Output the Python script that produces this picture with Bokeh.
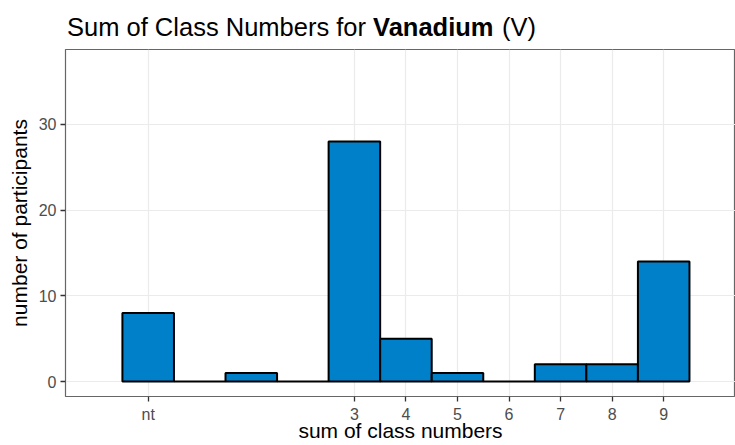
from bokeh.plotting import figure
from bokeh.layouts import column
from bokeh.models import ColumnDataSource, FixedTicker, Range1d
from bokeh.core.properties import value
from bokeh.embed import file_html
from bokeh.resources import INLINE

# ---- data ----
positions = [-1, 0, 1, 2, 3, 4, 5, 6, 7, 8, 9]
counts = [8, 0, 1, 0, 28, 5, 1, 0, 2, 2, 14]
x_tick_values = [-1, 3, 4, 5, 6, 7, 8, 9]
x_tick_labels = ["nt", "3", "4", "5", "6", "7", "8", "9"]
y_tick_values = [0, 10, 20, 30]

title_plain = "Sum of Class Numbers for"
title_bold = "Vanadium"
title_tail = "(V)"
x_title = "sum of class numbers"
y_title = "number of participants"

FONT = "Liberation Sans"
W = 735
H = 445
LEFT = 65
TITLE_H = 49
FS = 25.5
FRAME_W = W - LEFT

# ---- title strip (mixed weight title) ----
pt = figure(width=W, height=TITLE_H, output_backend="svg", toolbar_location=None,
            x_range=Range1d(0, FRAME_W), y_range=Range1d(0, TITLE_H),
            x_axis_type=None, y_axis_type=None, min_border=0,
            min_border_left=LEFT, min_border_right=0)
pt.grid.visible = False
pt.outline_line_color = None
pt.background_fill_color = "white"
pt.border_fill_color = "white"

w_plain_space = 12.003 * FS   # "Sum of Class Numbers for " (Arial metrics)
w_bold_space = (4.779 + 0.278) * FS  # "Vanadium " bold + space
tx = 1.5
ty = 23
pt.text(x=[tx], y=[ty], text=[title_plain], text_font=value(FONT),
        text_font_size=value(f"{FS}px"), text_color="black",
        text_baseline="alphabetic", text_align="left")
pt.text(x=[tx + w_plain_space], y=[ty], text=[title_bold], text_font=value(FONT),
        text_font_size=value(f"{FS}px"), text_font_style="bold", text_color="black",
        text_baseline="alphabetic", text_align="left")
pt.text(x=[tx + w_plain_space + w_bold_space], y=[ty], text=[title_tail], text_font=value(FONT),
        text_font_size=value(f"{FS}px"), text_color="black",
        text_baseline="alphabetic", text_align="left")

# ---- main plot ----
src = ColumnDataSource(dict(x=positions, top=counts))

p = figure(width=W, height=H - TITLE_H, output_backend="svg", toolbar_location=None,
           x_range=Range1d(-2.604, 10.393), y_range=Range1d(-1.75, 38.75),
           min_border_left=LEFT, min_border_right=0, min_border_top=0,
           min_border_bottom=49)

p.vbar(x="x", top="top", bottom=0, width=1.0, source=src,
       fill_color="#0080C9", line_color="black", line_width=2)

p.xaxis.ticker = FixedTicker(ticks=x_tick_values)
p.xaxis.major_label_overrides = {v: l for v, l in zip(x_tick_values, x_tick_labels)}
p.yaxis.ticker = FixedTicker(ticks=y_tick_values)
for ax in (p.xaxis, p.yaxis):
    ax.axis_line_color = None
    ax.major_tick_line_color = "#333333"
    ax.major_tick_line_width = 1.3
    ax.major_tick_out = 5
    ax.major_tick_in = 0
    ax.minor_tick_line_color = None
    ax.major_label_text_font = FONT
    ax.major_label_text_font_size = "16px"
    ax.major_label_text_color = "#4D4D4D"
    ax.axis_label_text_font = FONT
    ax.axis_label_text_font_size = "21px"
    ax.axis_label_text_font_style = "normal"
    ax.axis_label_text_color = "black"
p.xaxis.major_label_standoff = 4
p.xaxis.axis_label_standoff = -7
p.yaxis.major_label_standoff = 4
p.yaxis.axis_label_standoff = 5
p.xaxis.axis_label = x_title
p.yaxis.axis_label = y_title

p.xgrid.grid_line_color = "#EBEBEB"
p.ygrid.grid_line_color = "#EBEBEB"
p.xgrid.grid_line_width = 1.2
p.ygrid.grid_line_width = 1.2

p.outline_line_color = "#666666"
p.outline_line_width = 1.2
p.background_fill_color = "white"
p.border_fill_color = "white"

layout = column(pt, p, spacing=0)
html = file_html(layout, INLINE)
html = html.replace("<head>", "<head><style>html,body{margin:0;padding:0;overflow:hidden;}</style>", 1)
open("out.html", "w").write(html)
